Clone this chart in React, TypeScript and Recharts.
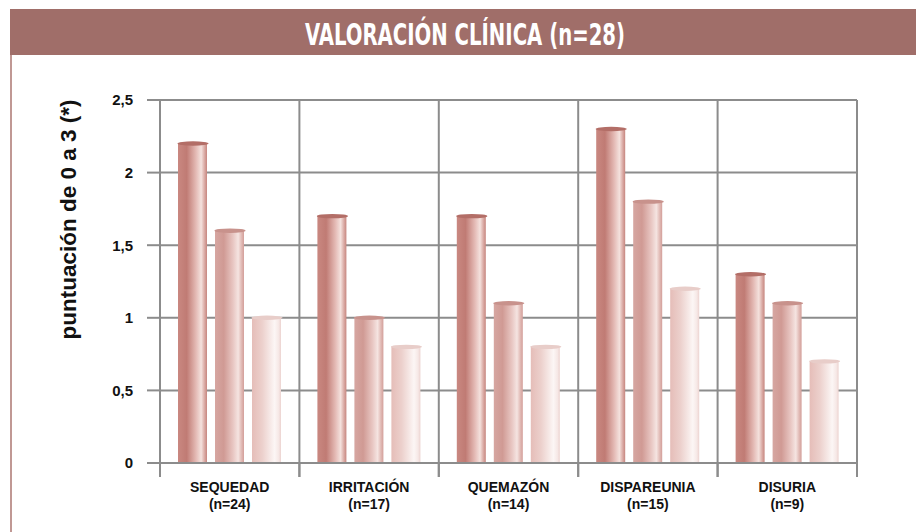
import React from 'react'
import { BarChart, Bar, XAxis, YAxis, CartesianGrid } from 'recharts'

const categories = ['SEQUEDAD', 'IRRITACIÓN', 'QUEMAZÓN', 'DISPAREUNIA', 'DISURIA']
const sampleSizes = ['(n=24)', '(n=17)', '(n=14)', '(n=15)', '(n=9)']
const serie1 = [2.2, 1.7, 1.7, 2.3, 1.3]
const serie2 = [1.6, 1.0, 1.1, 1.8, 1.1]
const serie3 = [1.0, 0.8, 0.8, 1.2, 0.7]
const yTicks = [0, 0.5, 1, 1.5, 2, 2.5]

const title = 'VALORACIÓN CLÍNICA (n=28)'
const yTitle = 'puntuación de 0 a 3 (*)'

const data = categories.map((c, i) => ({
  name: c,
  n: sampleSizes[i],
  s1: serie1[i],
  s2: serie2[i],
  s3: serie3[i],
}))

const GRID = '#8c8c8c'
const FONT = '"Liberation Sans", Arial, sans-serif'

const CAPS: Record<string, string> = {
  g1: '#b36e67',
  g2: '#c8928c',
  g3: '#e8cdc9',
}

function cylinder(gradId: string) {
  return (props: any) => {
    const { x, y, width, height } = props
    if (!height || height <= 0) return null
    return (
      <g>
        <rect x={x} y={y} width={width} height={height} fill={`url(#${gradId})`} />
        <ellipse cx={x + width / 2 + 0.5} cy={y} rx={width / 2 + 1} ry={2.2} fill={CAPS[gradId]} />
      </g>
    )
  }
}

const XTick = (props: any) => {
  const { x, y, payload, index } = props
  const half = payload.offset ?? 0
  return (
    <g>
      <line x1={x - half} y1={y} x2={x - half} y2={y + 14} stroke={GRID} strokeWidth={2} />
      <line x1={x + half} y1={y} x2={x + half} y2={y + 14} stroke={GRID} strokeWidth={2} />
      <text x={x} y={y + 29} textAnchor="middle" fontFamily={FONT} fontWeight="bold" fontSize={14} fill="#111">
        {payload.value}
      </text>
      <text x={x} y={y + 46} textAnchor="middle" fontFamily={FONT} fontWeight="bold" fontSize={14} fill="#111">
        {sampleSizes[index]}
      </text>
    </g>
  )
}

const YLabel = (props: any) => {
  const { viewBox } = props
  const cx = viewBox.x + 68
  const cy = viewBox.y + viewBox.height / 2 - 62
  return (
    <text
      x={cx}
      y={cy}
      transform={`rotate(-90 ${cx} ${cy})`}
      textAnchor="middle"
      dominantBaseline="central"
      fontFamily={FONT}
      fontWeight="bold"
      fontSize={22.5}
      fill="#111"
    >
      {yTitle}
    </text>
  )
}

export default function App() {
  return (
    <div style={{ position: 'relative', width: 916, height: 532, background: '#fff', overflow: 'hidden' }}>
      <style>{'body{margin:0}'}</style>
      <svg width={916} height={532} style={{ position: 'absolute', left: 0, top: 0 }}>
        <rect x={10} y={9} width={906} height={46} fill="#a06e69" />
        <line x1={11} y1={55} x2={11} y2={532} stroke="#c09894" strokeWidth={2} />
        <text
          x={465}
          y={45}
          textAnchor="middle"
          fontFamily='"Liberation Sans Narrow", "DejaVu Sans Condensed", Arial, sans-serif'
          fontWeight="bold"
          fontSize={30}
          fill="#fff"
          textLength={320}
          lengthAdjust="spacingAndGlyphs"
        >
          {title}
        </text>
      </svg>
      <div style={{ position: 'absolute', left: 0, top: 0 }}>
        <BarChart
          width={916}
          height={532}
          data={data}
          margin={{ top: 100, right: 59, bottom: 0, left: 0 }}
          barSize={29}
          barGap={8}
        >
          <defs>
            <linearGradient id="g1" x1="0" y1="0" x2="1" y2="0">
              <stop offset="0%" stopColor="#c98881" />
              <stop offset="30%" stopColor="#c07b74" />
              <stop offset="62%" stopColor="#e4bab5" />
              <stop offset="80%" stopColor="#f4e1dd" />
              <stop offset="92%" stopColor="#d9a8a2" />
              <stop offset="100%" stopColor="#c6867f" />
            </linearGradient>
            <linearGradient id="g2" x1="0" y1="0" x2="1" y2="0">
              <stop offset="0%" stopColor="#d6a6a1" />
              <stop offset="30%" stopColor="#d09a94" />
              <stop offset="62%" stopColor="#e8c6c2" />
              <stop offset="80%" stopColor="#f5e4e1" />
              <stop offset="92%" stopColor="#e0b8b3" />
              <stop offset="100%" stopColor="#d39f9a" />
            </linearGradient>
            <linearGradient id="g3" x1="0" y1="0" x2="1" y2="0">
              <stop offset="0%" stopColor="#e5bdb8" />
              <stop offset="35%" stopColor="#ecd0cc" />
              <stop offset="78%" stopColor="#fcf6f5" />
              <stop offset="92%" stopColor="#f6e8e6" />
              <stop offset="100%" stopColor="#ecd3d0" />
            </linearGradient>
          </defs>
          <CartesianGrid
            stroke={GRID}
            strokeWidth={2}
            verticalCoordinatesGenerator={({ offset }: any) =>
              categories.map((_, i) => offset.left + (i * offset.width) / categories.length).concat(offset.left + offset.width)
            }
          />
          <XAxis
            dataKey="name"
            height={69}
            interval={0}
            tickSize={0}
            tickMargin={0}
            axisLine={{ stroke: GRID, strokeWidth: 2 }}
            tick={<XTick />}
          />
          <YAxis
            width={160}
            domain={[0, 2.5]}
            ticks={yTicks}
            interval={0}
            tickSize={13}
            tickMargin={14}
            tickFormatter={(v: number) => String(v).replace('.', ',')}
            tick={{ fontFamily: FONT, fontWeight: 'bold', fontSize: 15, fill: '#111' }}
            tickLine={{ stroke: GRID, strokeWidth: 2 }}
            axisLine={{ stroke: GRID, strokeWidth: 2 }}
            label={<YLabel />}
          />
          <Bar dataKey="s1" isAnimationActive={false} shape={cylinder('g1')} />
          <Bar dataKey="s2" isAnimationActive={false} shape={cylinder('g2')} />
          <Bar dataKey="s3" isAnimationActive={false} shape={cylinder('g3')} />
        </BarChart>
      </div>
    </div>
  )
}
